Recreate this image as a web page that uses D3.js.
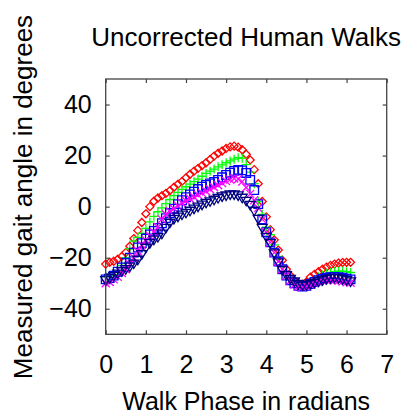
<!DOCTYPE html>
<html>
<head>
<meta charset="utf-8">
<script src="https://cdn.jsdelivr.net/npm/d3@7"></script>
<style>
  body { margin: 0; background: #fff; }
  svg { display: block; font-family: "Liberation Sans", Arial, sans-serif; }
</style>
</head>
<body>
<div id="chart"></div>
<script>
// walk phase (radians) shared by every trial
const phase = [0, 0.1, 0.2, 0.3, 0.4, 0.5, 0.6, 0.7, 0.8, 0.9,
  1.0, 1.1, 1.2, 1.3, 1.4, 1.5, 1.6, 1.7, 1.8, 1.9,
  2.0, 2.1, 2.2, 2.3, 2.4, 2.5, 2.6, 2.7, 2.8, 2.9,
  3.0, 3.1, 3.2, 3.3, 3.4, 3.5, 3.6, 3.7, 3.8, 3.9,
  4.0, 4.1, 4.2, 4.3, 4.4, 4.5, 4.6, 4.7, 4.8, 4.9,
  5.0, 5.1, 5.2, 5.3, 5.4, 5.5, 5.6, 5.7, 5.8, 5.9,
  6.0, 6.1];

// measured gait angle (degrees), one array per walk
const walkRed = [-22.5, -21.8, -21.4, -20.6, -19.5, -18, -15.5, -12.5, -9.3, -6.2,
  -2.8, 0, 2.1, 3.4, 4.3, 5.2, 6.3, 7.6, 8.8, 9.9,
  11.3, 12.7, 13.9, 15, 16.1, 17.2, 18.5, 19.8, 20.9, 21.8,
  22.8, 23.4, 23.7, 23.3, 22.3, 20.5, 18.3, 14.5, 9, 2,
  -4, -9, -13, -17, -21, -24.5, -27, -29, -30.3, -30.5,
  -29.5, -27.6, -26.5, -25.5, -24.5, -23.7, -23, -22.5, -22.1, -21.9,
  -21.8, -21.8];
const walkGreen = [-27.5, -27, -26.5, -25.5, -23, -20, -16.5, -13.5, -12, -10.5,
  -8.5, -6, -3.8, -2, -0.5, 1.2, 2.8, 4.3, 5.6, 6.8,
  7.8, 8.8, 9.8, 10.8, 11.9, 13, 13.9, 14.7, 15.6, 16.4,
  17.2, 17.9, 18.6, 19.2, 19, 16.5, 13.5, 9, 2, -3,
  -8, -11, -15, -19.5, -23, -26, -28, -29.5, -30.5, -31,
  -30.5, -29.5, -28.5, -27.5, -26.8, -26.2, -25.8, -25.5, -25.3, -25.3,
  -25.5, -25.8];
const walkBlue = [-28.5, -28, -27, -25.5, -23.8, -22, -20, -18, -16, -14.3,
  -12.5, -10.9, -9.5, -8.3, -6.5, -4.5, -2.5, -0.8, 1, 2.5,
  3.7, 4.8, 5.9, 6.9, 7.8, 8.5, 9.1, 9.7, 10.5, 11.5,
  12.4, 13.3, 14, 14.4, 14.2, 13.2, 10.5, 6.5, 1, -5,
  -10, -14, -18, -21.5, -24.5, -27, -28.8, -30, -31, -31.3,
  -31, -30.3, -29.5, -28.8, -28.2, -27.8, -27.6, -27.5, -27.6, -27.8,
  -28.2, -28.5];
const walkMagenta = [-30, -29.5, -28.5, -27.5, -26, -24.5, -22.5, -20, -17.5, -15,
  -13, -11.5, -10, -8, -5, -3, -1.8, -0.8, 0.3, 1.4,
  2.3, 3.1, 3.8, 4.6, 5.3, 6, 6.8, 7.6, 8.4, 9.2,
  10, 10.6, 11, 10.8, 9.8, 7.5, 5, 2.5, -0.5, -5,
  -10, -14, -18, -21.5, -24.5, -27, -29, -30.5, -31.3, -31.5,
  -31.2, -30.6, -30, -29.4, -29, -28.8, -28.7, -28.8, -29, -29.3,
  -29.6, -29.8];
const walkNavy = [-29, -28.2, -27.3, -26.4, -25.5, -24.7, -23.7, -22.5, -21, -18.8,
  -16.3, -14.5, -13.1, -12.1, -10.8, -8.5, -6.5, -5, -4.1, -3.3,
  -2.6, -1.8, -1, -0.2, 0.6, 1.3, 1.9, 2.5, 3.2, 3.8,
  4.2, 4.6, 4.6, 4.2, 3.3, 2.1, 0.5, -1.8, -5, -8.5,
  -12, -14.5, -18.5, -22, -25, -27, -28.5, -29.5, -30.5, -31,
  -31, -30.5, -30, -29.5, -29, -28.5, -28.2, -28, -28.2, -28.6,
  -29, -29.5];

const xTicks = [0, 1, 2, 3, 4, 5, 6, 7];
const yTicks = [-40, -20, 0, 20, 40];

const series = [
  { name: 'red', values: walkRed, color: '#ff0000', marker: 'diamond' },
  { name: 'green', values: walkGreen, color: '#00ff00', marker: 'plus' },
  { name: 'blue', values: walkBlue, color: '#0000ff', marker: 'square' },
  { name: 'magenta', values: walkMagenta, color: '#ff00ff', marker: 'cross' },
  { name: 'navy', values: walkNavy, color: '#000080', marker: 'triangle' }
];

let W = 408, H = 416;
let margin = { top: 79, right: 21.3, bottom: 81.7, left: 105.7 };
let width = W - margin.left - margin.right;
let height = H - margin.top - margin.bottom;

let svg = d3.select('#chart').append('svg')
  .attr('width', W)
  .attr('height', H);

let g = svg.append('g')
  .attr('transform', 'translate(' + margin.left + ',' + margin.top + ')');

let x = d3.scaleLinear().domain([0, 7]).range([0, width]);
let y = d3.scaleLinear().domain([-50, 50]).range([height, 0]);

// marker outlines, r is the half size in px
function markerPath(type, r) {
  if (type === 'diamond') return `M0,${-r}L${r},0L0,${r}L${-r},0Z`;
  if (type === 'plus') return `M${-r},0H${r}M0,${-r}V${r}`;
  if (type === 'square') return `M${-r},${-r}H${r}V${r}H${-r}Z`;
  if (type === 'cross') return `M${-r},${-r}L${r},${r}M${r},${-r}L${-r},${r}`;
  // triangle pointing down
  return `M${-r},${-r * 0.8}H${r}L0,${r * 0.9}Z`;
}
const markerSize = { diamond: 4, plus: 4.5, square: 4.3, cross: 4, triangle: 5 };

// **************** points ****************
series.forEach(function (s) {
  g.append('g')
    .attr('class', 'series ' + s.name)
    .selectAll('path')
    .data(phase.map(function (p, i) { return [p, s.values[i]]; }))
    .enter().append('path')
    .attr('transform', function (d) {
      return 'translate(' + x(d[0]) + ',' + y(d[1]) + ')';
    })
    .attr('d', markerPath(s.marker, markerSize[s.marker]))
    .attr('fill', 'none')
    .attr('stroke', s.color)
    .attr('stroke-width', 1.3);
});

// **************** axes ****************
function styleAxis(sel) {
  sel.select('.domain').remove();
  sel.selectAll('.tick line').attr('stroke', '#444').attr('stroke-width', 1.2);
  sel.selectAll('.tick text').attr('fill', '#000').style('font-size', '25px');
}

g.append('g')
  .attr('transform', 'translate(0,' + height + ')')
  .call(d3.axisBottom(x).tickValues(xTicks).tickSize(-4).tickPadding(21).tickFormat(d3.format('d')))
  .call(styleAxis);

g.append('g')
  .call(d3.axisLeft(y).tickValues(yTicks).tickSize(-4).tickPadding(14).tickFormat(d3.format('d')))
  .call(styleAxis);

g.append('g')
  .call(d3.axisTop(x).tickValues(xTicks).tickSize(-4).tickFormat(''))
  .call(styleAxis);

g.append('g')
  .attr('transform', 'translate(' + width + ',0)')
  .call(d3.axisRight(y).tickValues(yTicks).tickSize(-4).tickFormat(''))
  .call(styleAxis);

g.append('rect')
  .attr('width', width)
  .attr('height', height)
  .attr('fill', 'none')
  .attr('stroke', '#444')
  .attr('stroke-width', 1.3);

// **************** labels ****************
svg.append('text')
  .attr('x', margin.left + width / 2)
  .attr('y', 46)
  .attr('text-anchor', 'middle')
  .style('font-size', '26px')
  .text('Uncorrected Human Walks');

svg.append('text')
  .attr('x', margin.left + width / 2)
  .attr('y', 410)
  .attr('text-anchor', 'middle')
  .style('font-size', '25px')
  .text('Walk Phase in radians');

svg.append('text')
  .attr('transform', 'translate(32,197) rotate(-90)')
  .attr('text-anchor', 'middle')
  .style('font-size', '26px')
  .text('Measured gait angle in degrees');
</script>
</body>
</html>
